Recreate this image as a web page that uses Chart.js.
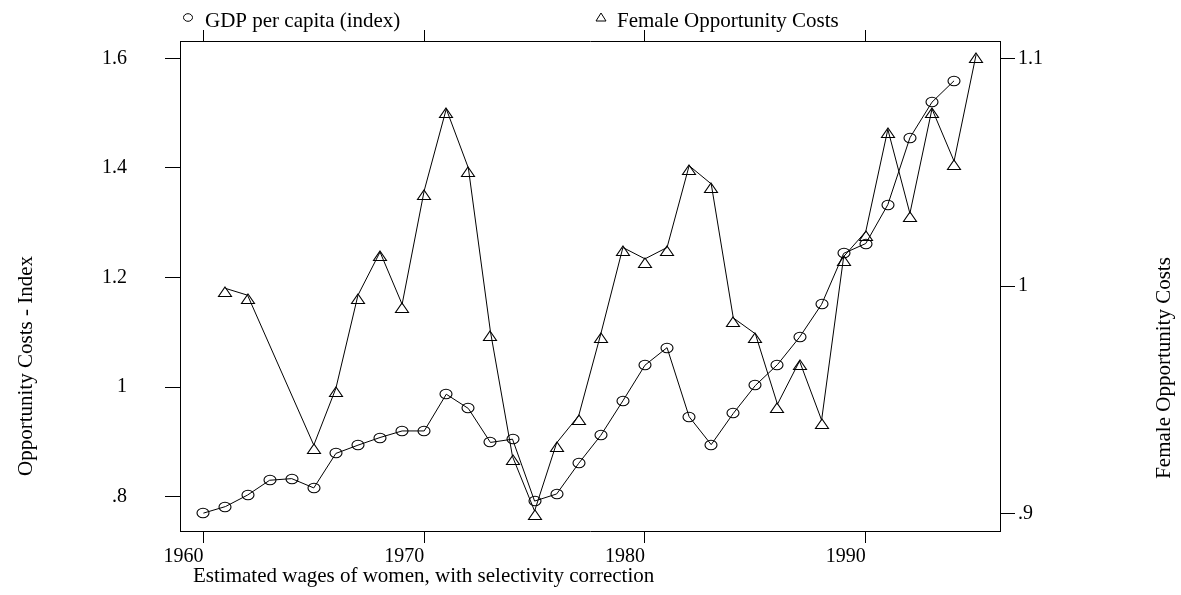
<!DOCTYPE html>
<html><head><meta charset="utf-8">
<script src="https://cdn.jsdelivr.net/npm/chart.js@4.4.1/dist/chart.umd.min.js"></script>
<style>html,body{margin:0;padding:0;background:#fff;} canvas{display:block;}</style>
</head><body>
<canvas id="c" width="1181" height="595"></canvas>
<script>
// ---- data ----
const years = [1960,1961,1962,1963,1964,1965,1966,1967,1968,1969,1970,1971,1972,1973,1974,1975,1976,1977,1978,1979,1980,1981,1982,1983,1984,1985,1986,1987,1988,1989,1990,1991,1992,1993,1994,1995];
const gdpIndex = [0.770,0.782,0.803,0.830,0.833,0.816,0.879,0.894,0.908,0.920,0.920,0.987,0.961,0.899,0.905,0.792,0.805,0.861,0.912,0.975,1.040,1.072,0.946,0.895,0.952,1.003,1.041,1.091,1.151,1.244,1.262,1.333,1.455,1.520,1.559,null];
const femaleOppCosts = [null,0.999,0.996,null,null,0.930,0.955,0.996,1.015,0.992,1.042,1.078,1.052,0.980,0.925,0.901,0.931,0.943,0.979,1.017,1.012,1.017,1.053,1.045,0.986,0.979,0.948,0.967,0.941,1.013,1.024,1.069,1.032,1.078,1.055,1.102];
const xTicks = [1960,1970,1980,1990];
const leftTicks = [0.8,1.0,1.2,1.4,1.6];
const rightTicks = [0.9,1.0,1.1];
const legendLabels = ['GDP per capita (index)','Female Opportunity Costs'];
const xTitle = 'Estimated wages of women, with selectivity correction';
const leftTitle = 'Opportunity Costs - Index';
const rightTitle = 'Female Opportunity Costs';

// ---- marker images ----
function ellipseImg(){
  const c=document.createElement('canvas'); c.width=16; c.height=14;
  const g=c.getContext('2d'); g.strokeStyle='#000'; g.lineWidth=1.1;
  g.beginPath(); g.ellipse(8,7,6,4.8,0,0,Math.PI*2); g.stroke(); return c;
}
function triImg(){
  const c=document.createElement('canvas'); c.width=16; c.height=22;
  const g=c.getContext('2d'); g.strokeStyle='#000'; g.lineWidth=1.1;
  g.beginPath(); g.moveTo(8,10); g.lineTo(14.5,19.5); g.lineTo(1.5,19.5); g.closePath(); g.stroke(); return c;
}
const circleStyle = ellipseImg();
const triStyle = triImg();

const FONT = 'Liberation Serif, Times New Roman, serif';
Chart.defaults.font.family = FONT;
Chart.defaults.color = '#000';

const fmt = v => { let s = String(Math.round(v*100)/100); return s.replace(/^0\./,'.'); };
const noPad = s => { s.paddingTop = 0; s.paddingBottom = 0; s.paddingLeft = 0; s.paddingRight = 0; };

const textPlugin = {
  id:'texts',
  beforeDatasetsDraw(chart){ chart.ctx.imageSmoothingEnabled = false; },
  afterDraw(chart){
    const ctx = chart.ctx;
    ctx.save();
    ctx.fillStyle='#000'; ctx.strokeStyle='#000'; ctx.lineWidth=1;
    ctx.font = '21px ' + FONT;
    ctx.textBaseline='alphabetic';
    // legend
    ctx.beginPath(); ctx.ellipse(188,17.5,4.5,3.8,0,0,Math.PI*2); ctx.stroke();
    ctx.textAlign='left';
    ctx.fillText(legendLabels[0],205,27);
    ctx.beginPath(); ctx.moveTo(601,13); ctx.lineTo(606,21); ctx.lineTo(596,21); ctx.closePath(); ctx.stroke();
    ctx.fillText(legendLabels[1],617,27);
    // x title
    ctx.fillText(xTitle,193,582);
    // left title
    ctx.save(); ctx.translate(32,366); ctx.rotate(-Math.PI/2); ctx.textAlign='center'; ctx.fillText(leftTitle,0,0); ctx.restore();
    // right title
    ctx.save(); ctx.translate(1170,368); ctx.rotate(-Math.PI/2); ctx.textAlign='center'; ctx.fillText(rightTitle,0,0); ctx.restore();
    ctx.restore();
  }
};

const tickFont = {size:20, family:FONT};

new Chart(document.getElementById('c'), {
  type:'line',
  data:{
    datasets:[
      { label:legendLabels[0], data: years.map((y,i)=>({x:y,y:gdpIndex[i]})), xAxisID:'x', yAxisID:'y',
        borderColor:'#000', borderWidth:1, pointStyle:circleStyle, pointRadius:6, tension:0, fill:false, spanGaps:false },
      { label:legendLabels[1], data: years.map((y,i)=>({x:y,y:femaleOppCosts[i]})), xAxisID:'x', yAxisID:'y1',
        borderColor:'#000', borderWidth:1, pointStyle:triStyle, pointRadius:6, tension:0, fill:false, spanGaps:true }
    ]
  },
  options:{
    responsive:false, animation:false, devicePixelRatio:1,
    layout:{padding:0},
    plugins:{legend:{display:false}, tooltip:{enabled:false}},
    scales:{
      x:{ type:'linear', position:'bottom', min:1958.94, max:1996.08,
        afterBuildTicks:s=>{ s.ticks = xTicks.map(v=>({value:v})); },
        afterFit:s=>{ s.height = 64; noPad(s); },
        ticks:{ font:tickFont, color:'#000', align:'end', padding:2, maxRotation:0, autoSkip:false, callback:v=>String(v) },
        grid:{ drawOnChartArea:false, drawTicks:true, tickLength:12, color:'#000', tickColor:'#000' },
        border:{ display:true, color:'#000', width:1 } },
      x2:{ type:'linear', position:'top', min:1958.94, max:1996.08,
        afterBuildTicks:s=>{ s.ticks = xTicks.map(v=>({value:v})); },
        afterFit:s=>{ s.height = 41; noPad(s); },
        ticks:{ display:false },
        grid:{ drawOnChartArea:false, drawTicks:true, tickLength:11, color:'#000', tickColor:'#000' },
        border:{ display:true, color:'#000', width:1 } },
      y:{ type:'linear', position:'left', min:0.7374, max:1.6316,
        afterBuildTicks:s=>{ s.ticks = leftTicks.map(v=>({value:v})); },
        afterFit:s=>{ s.width = 180; noPad(s); },
        ticks:{ font:tickFont, color:'#000', padding:38, callback:v=>fmt(v) },
        grid:{ drawOnChartArea:false, drawTicks:true, tickLength:15, color:'#000', tickColor:'#000' },
        border:{ display:true, color:'#000', width:1 } },
      y1:{ type:'linear', position:'right', min:0.8922, max:1.1079,
        afterBuildTicks:s=>{ s.ticks = rightTicks.map(v=>({value:v})); },
        afterFit:s=>{ s.width = 181; noPad(s); },
        ticks:{ font:tickFont, color:'#000', padding:3, callback:v=>fmt(v) },
        grid:{ drawOnChartArea:false, drawTicks:true, tickLength:15, color:'#000', tickColor:'#000' },
        border:{ display:true, color:'#000', width:1 } }
    }
  },
  plugins:[textPlugin]
});
</script>
</body></html>
